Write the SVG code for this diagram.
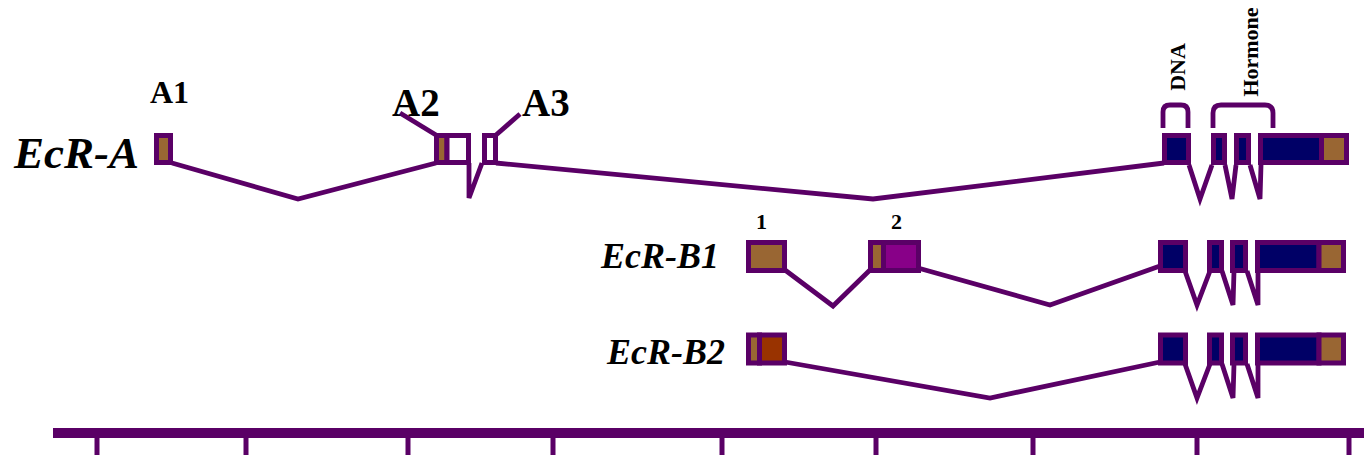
<svg xmlns="http://www.w3.org/2000/svg" width="1364" height="455" viewBox="0 0 1364 455">
<style>
.ex{stroke:#5a0066;stroke-width:5}
.nv{fill:#000066}
.br{fill:#996633}
.wh{fill:#ffffff}
.mg{fill:#880088}
.rb{fill:#993300}
.ln{fill:none;stroke:#5a0066;stroke-width:4.8;stroke-linejoin:miter}
.lab{font-family:"Liberation Serif","Times New Roman",serif;font-weight:bold;fill:#000}
.it{font-style:italic}
</style>
<rect width="1364" height="455" fill="#ffffff"/>
<g id="connectors">
<polyline class="ln" points="172,163 298,199 436,163"/>
<polyline class="ln" points="469,163 469,198 482,163"/>
<polyline class="ln" points="496,163 873,199 1164,163"/>
<polyline class="ln" points="1189,165 1200,199 1212,165"/>
<polyline class="ln" points="1225,165 1232,199 1236,165"/>
<polyline class="ln" points="1250,165 1260,199 1261,165"/>
<polyline class="ln" points="400,113 436,135"/>
<polyline class="ln" points="520,114 496,135"/>
<polyline class="ln" points="785,270 833,306 870,270"/>
<polyline class="ln" points="918,268 1050,305 1160,266"/>
<polyline class="ln" points="1185,271 1197,305 1210,271"/>
<polyline class="ln" points="1222,271 1233,305 1234,271"/>
<polyline class="ln" points="1247,271 1258,305 1258,271"/>
<polyline class="ln" points="785,362 990,398 1160,362"/>
<polyline class="ln" points="1185,364 1197,398 1210,364"/>
<polyline class="ln" points="1222,364 1233,398 1234,364"/>
<polyline class="ln" points="1247,364 1258,398 1258,364"/>
<path class="ln" d="M1163,128 V112 Q1163,105 1170,105 H1181 Q1188,105 1188,112 V128"/>
<path class="ln" d="M1213,128 V113 Q1213,105 1221,105 H1265 Q1273,105 1273,113 V128"/>
</g>
<g id="EcR-A">
<text class="lab it" x="14" y="168" font-size="45">EcR-A</text>
<text class="lab" x="150" y="103" font-size="32">A1</text>
<text class="lab" x="392" y="116" font-size="39">A2</text>
<text class="lab" x="522" y="116" font-size="39">A3</text>
<rect class="ex br" x="156.5" y="135.5" width="14" height="27"/>
<rect class="ex br" x="436.5" y="135.5" width="10.5" height="27"/>
<rect class="ex wh" x="447" y="135.5" width="21.5" height="27"/>
<rect class="ex wh" x="484.5" y="135.5" width="11" height="27"/>
<rect class="ex nv" x="1164.5" y="135.5" width="24" height="27"/>
<rect class="ex nv" x="1213.5" y="135.5" width="11" height="27"/>
<rect class="ex nv" x="1236.5" y="135.5" width="12" height="27"/>
<rect class="ex nv" x="1260.5" y="135.5" width="61" height="27"/>
<rect class="ex br" x="1321.5" y="135.5" width="25" height="27"/>
</g>
<g id="domains">
<text class="lab" font-size="22" transform="translate(1185,67) rotate(-90)" text-anchor="middle">DNA</text>
<text class="lab" font-size="22" transform="translate(1258,52) rotate(-90)" text-anchor="middle">Hormone</text>
</g>
<g id="EcR-B1">
<text class="lab it" x="601" y="268" font-size="36">EcR-B1</text>
<text class="lab" x="756" y="229" font-size="22">1</text>
<text class="lab" x="891" y="229" font-size="22">2</text>
<rect class="ex br" x="748.5" y="242.5" width="36" height="28"/>
<rect class="ex br" x="870.5" y="242.5" width="13" height="28"/>
<rect class="ex mg" x="883.5" y="242.5" width="35" height="28"/>
<rect class="ex nv" x="1160.5" y="242.5" width="25" height="28"/>
<rect class="ex nv" x="1209.5" y="242.5" width="12" height="28"/>
<rect class="ex nv" x="1232.5" y="242.5" width="13" height="28"/>
<rect class="ex nv" x="1257.5" y="242.5" width="61.5" height="28"/>
<rect class="ex br" x="1319" y="242.5" width="24.5" height="28"/>
</g>
<g id="EcR-B2">
<text class="lab it" x="607" y="364" font-size="36">EcR-B2</text>
<rect class="ex br" x="748.5" y="335" width="11" height="28"/>
<rect class="ex rb" x="759.5" y="335" width="25" height="28"/>
<rect class="ex nv" x="1160.5" y="335" width="25" height="28"/>
<rect class="ex nv" x="1209.5" y="335" width="12" height="28"/>
<rect class="ex nv" x="1232.5" y="335" width="13" height="28"/>
<rect class="ex nv" x="1257.5" y="335" width="61.5" height="28"/>
<rect class="ex br" x="1319" y="335" width="24.5" height="28"/>
</g>
<g id="axis" stroke="#5a0066">
<line x1="53" y1="433" x2="1364" y2="433" stroke-width="10"/>
<g stroke-width="5">
<line x1="97" y1="428" x2="97" y2="455"/>
<line x1="246" y1="428" x2="246" y2="455"/>
<line x1="408" y1="428" x2="408" y2="455"/>
<line x1="553" y1="428" x2="553" y2="455"/>
<line x1="722" y1="428" x2="722" y2="455"/>
<line x1="876" y1="428" x2="876" y2="455"/>
<line x1="1033" y1="428" x2="1033" y2="455"/>
<line x1="1197" y1="428" x2="1197" y2="455"/>
<line x1="1349" y1="428" x2="1349" y2="455"/>
</g>
</g>
</svg>
